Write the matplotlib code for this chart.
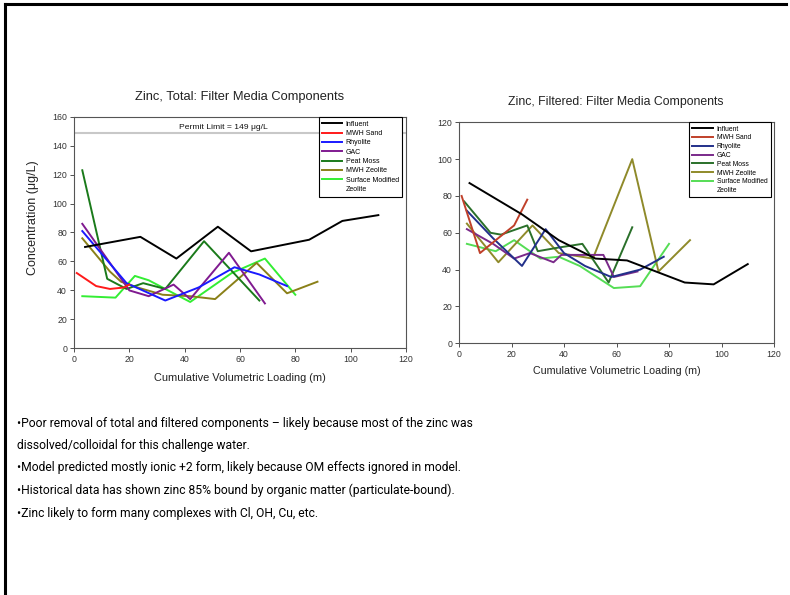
import matplotlib
matplotlib.use('Agg')
import matplotlib.pyplot as plt
from matplotlib.lines import Line2D
from matplotlib import font_manager

# ---------------- data ----------------
series_names = ["Influent", "MWH Sand", "Rhyolite", "GAC", "Peat Moss",
                "MWH Zeolite", "Surface Modified Zeolite"]

# Zinc, Total
tot_influent_x = [4, 24, 37, 52, 64, 85, 97, 110]
tot_influent_y = [70, 77, 62, 84, 67, 75, 88, 92]
tot_sand_x = [1, 8, 13, 18, 20]
tot_sand_y = [52, 43, 41, 42, 44]
tot_rhyolite_x = [3, 19, 33, 45, 58, 67, 77]
tot_rhyolite_y = [81, 45, 33, 42, 56, 51, 43]
tot_gac_x = [3, 20, 27, 36, 42, 56, 69]
tot_gac_y = [86, 40, 36, 44, 34, 66, 31]
tot_peat_x = [3, 12, 19, 25, 33, 47, 67]
tot_peat_y = [123, 48, 41, 45, 41, 74, 33]
tot_mwhz_x = [3, 13, 17, 23, 32, 42, 51, 66, 77, 88]
tot_mwhz_y = [76, 53, 46, 42, 37, 36, 34, 59, 38, 46]
tot_smz_x = [3, 15, 22, 27, 42, 57, 69, 80]
tot_smz_y = [36, 35, 50, 47, 32, 52, 62, 37]
permit_limit = 149

# Zinc, Filtered
fil_influent_x = [4, 24, 38, 52, 64, 75, 86, 97, 110]
fil_influent_y = [87, 70, 56, 46, 45, 39, 33, 32, 43]
fil_sand_x = [1, 8, 14, 21, 26]
fil_sand_y = [80, 49, 56, 64, 78]
fil_rhyolite_x = [3, 13, 24, 33, 40, 48, 58, 69, 78]
fil_rhyolite_y = [72, 57, 42, 62, 49, 42, 36, 40, 47]
fil_gac_x = [3, 13, 21, 27, 36, 39, 55, 59, 68]
fil_gac_y = [62, 54, 46, 49, 44, 48, 48, 36, 39]
fil_peat_x = [2, 12, 16, 26, 30, 38, 47, 57, 66]
fil_peat_y = [77, 60, 59, 64, 50, 52, 54, 33, 63]
fil_mwhz_x = [3, 15, 28, 38, 51, 66, 76, 88]
fil_mwhz_y = [65, 44, 64, 49, 46, 100, 39, 56]
fil_smz_x = [3, 14, 21, 31, 38, 46, 59, 69, 80]
fil_smz_y = [54, 50, 56, 46, 47, 42, 30, 31, 54]

x_ticks = [0, 20, 40, 60, 80, 100, 120]
tot_y_ticks = [0, 20, 40, 60, 80, 100, 120, 140, 160]
fil_y_ticks = [0, 20, 40, 60, 80, 100, 120]

bullets = [
    "\u2022Poor removal of total and filtered components \u2013 likely because most of the zinc was",
    "dissolved/colloidal for this challenge water.",
    "\u2022Model predicted mostly ionic +2 form, likely because OM effects ignored in model.",
    "\u2022Historical data has shown zinc 85% bound by organic matter (particulate-bound).",
    "\u2022Zinc likely to form many complexes with Cl, OH, Cu, etc.",
]

# ---------------- style ----------------
plt.rcParams['font.family'] = ['Liberation Sans', 'DejaVu Sans']
W, H = 790, 595
fig = plt.figure(figsize=(W / 100, H / 100), dpi=100)
fig.patch.set_facecolor('white')


def axrect(x0, y0, x1, y1):
    return [x0 / W, 1 - y1 / H, (x1 - x0) / W, (y1 - y0) / H]


colors_tot = ['#000000', '#ff1a1a', '#1a1aff', '#801a90', '#1a7a1a', '#8a8018', '#33ee33']
colors_fil = ['#000000', '#c0402a', '#22308a', '#7a2a8a', '#2a702a', '#8f8a2a', '#55dd55']
LW = 1.4

ax1 = fig.add_axes(axrect(74, 116.7, 406, 348.3))
ax2 = fig.add_axes(axrect(459, 122.3, 774, 343.3))

tot_data = [(tot_influent_x, tot_influent_y), (tot_sand_x, tot_sand_y),
            (tot_rhyolite_x, tot_rhyolite_y), (tot_gac_x, tot_gac_y),
            (tot_peat_x, tot_peat_y), (tot_mwhz_x, tot_mwhz_y), (tot_smz_x, tot_smz_y)]
fil_data = [(fil_influent_x, fil_influent_y), (fil_sand_x, fil_sand_y),
            (fil_rhyolite_x, fil_rhyolite_y), (fil_gac_x, fil_gac_y),
            (fil_peat_x, fil_peat_y), (fil_mwhz_x, fil_mwhz_y), (fil_smz_x, fil_smz_y)]

ax1.axhline(permit_limit, color='#c8c8c8', lw=1.5, zorder=1)
ax1.text(54, permit_limit + 1.2, "Permit Limit = 149 \u03bcg/L", ha='center', va='bottom',
         fontsize=6.1, color='#111111')

draw_order = [6, 5, 4, 3, 2, 1, 0]
for i in draw_order:
    x, y = tot_data[i]
    ax1.plot(x, y, color=colors_tot[i], lw=LW, zorder=3 + (6 - i) * 0.1)
    x, y = fil_data[i]
    ax2.plot(x, y, color=colors_fil[i], lw=LW, zorder=3 + (6 - i) * 0.1)

for ax, yt, ymax in [(ax1, tot_y_ticks, 160), (ax2, fil_y_ticks, 120)]:
    ax.set_xlim(0, 120)
    ax.set_ylim(0, ymax)
    ax.set_xticks(x_ticks)
    ax.set_yticks(yt)
    for s in ax.spines.values():
        s.set_color('#555555')
        s.set_linewidth(0.8)
    ax.tick_params(direction='out', length=3, width=0.6, labelsize=6.3, pad=2,
                   colors='#333333')
    ax.set_facecolor('white')


def make_legend(ax, colors, anchor, fs, hl, ls):
    handles = [Line2D([], [], color=c, lw=LW) for c in colors]
    labels = series_names[:-1] + ["Surface Modified"]
    handles.append(Line2D([], [], color='none'))
    labels.append("Zeolite")
    leg = ax.legend(handles, labels, loc='upper right', bbox_to_anchor=anchor,
                    fontsize=fs, handlelength=hl, handletextpad=0.5, labelspacing=ls,
                    borderpad=0.5, borderaxespad=0, frameon=True, fancybox=False,
                    framealpha=1, edgecolor='black')
    leg.get_frame().set_linewidth(0.8)
    leg.set_zorder(10)
    return leg


make_legend(ax1, colors_tot, (0.989, 0.998), 5.0, 2.9, 0.34)
make_legend(ax2, colors_fil, (0.990, 1.0), 4.9, 3.1, 0.26)

# titles & labels
fig.text(240 / W, 1 - 97 / H, "Zinc, Total: Filter Media Components", ha='center', va='center',
         fontsize=9.3, color='#222222')
fig.text(616 / W, 1 - 102 / H, "Zinc, Filtered: Filter Media Components", ha='center', va='center',
         fontsize=8.8, color='#222222')
fig.text(240 / W, 1 - 378 / H, "Cumulative Volumetric Loading (m)", ha='center', va='center',
         fontsize=7.95, color='#222222')
fig.text(616.5 / W, 1 - 371 / H, "Cumulative Volumetric Loading (m)", ha='center', va='center',
         fontsize=7.65, color='#222222')
fig.text(33 / W, 1 - 218 / H, "Concentration (\u03bcg/L)", ha='center', va='center',
         rotation=90, fontsize=9.0, color='#222222')

# bullet text
avail = {f.name for f in font_manager.fontManager.ttflist}
bfont = 'Liberation Sans Narrow' if 'Liberation Sans Narrow' in avail else 'Roboto'
line_y = [423, 445.5, 468, 490.5, 513]
renderer = fig.canvas.get_renderer()
probe = fig.text(17 / W, 0.5, bullets[0], fontsize=10, family=[bfont, 'DejaVu Sans'])
wpx = probe.get_window_extent(renderer).width
probe.remove()
bsize = 10 * 458 / wpx
for txt, yy in zip(bullets, line_y):
    fig.text(17 / W, 1 - yy / H, txt, fontsize=bsize, family=[bfont, 'DejaVu Sans'],
             va='center', ha='left', color='black')

# slide border (top and left)
fig.add_artist(Line2D([5 / W, 786 / W], [1 - 3.5 / H, 1 - 3.5 / H], color='black', lw=2.2,
                      transform=fig.transFigure))
fig.add_artist(Line2D([5 / W, 5 / W], [1 - 3.5 / H, 0], color='black', lw=2.2,
                      transform=fig.transFigure))

fig.savefig('out.png', dpi=100, facecolor='white')
